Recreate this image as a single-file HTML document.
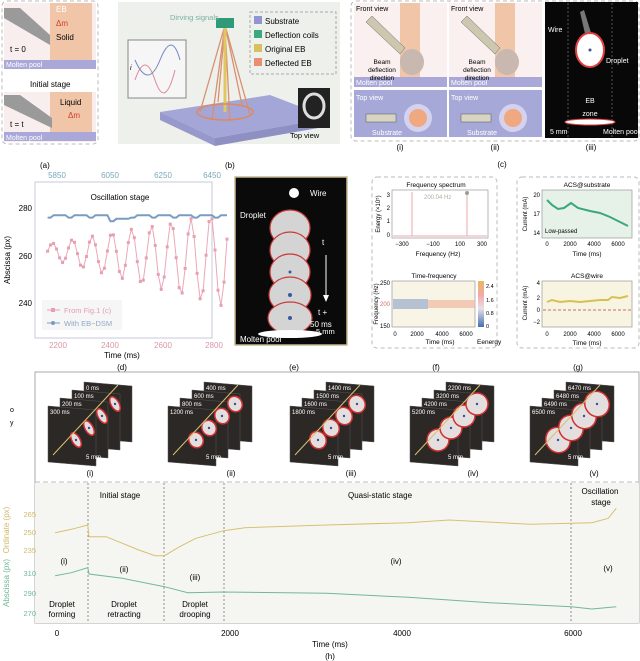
<!DOCTYPE html>
<html><head><meta charset="utf-8"><style>
html,body{margin:0;padding:0;background:#fff}
svg{display:block;font-family:"Liberation Sans",sans-serif}
</style></head><body>
<svg id="s" width="640" height="661" viewBox="0 0 640 661" xmlns="http://www.w3.org/2000/svg">
<defs><linearGradient id="cb" x1="0" y1="1" x2="0" y2="0"><stop offset="0" stop-color="#4070b0"/><stop offset=".4" stop-color="#e8e0e8"/><stop offset=".7" stop-color="#f0a8a8"/><stop offset="1" stop-color="#e8b860"/></linearGradient></defs>
<!-- (a) -->
<rect x="2" y="1" width="96" height="143" rx="5" fill="#fff" stroke="#bbb" stroke-dasharray="4,3"/>
<rect x="4" y="3" width="92" height="66" fill="#f8eeee"/>
<rect x="50" y="3" width="42" height="64" fill="#f1c6a8"/>
<rect x="4" y="60" width="92" height="9" fill="#a9a8d8"/>
<polygon points="4,8 20,8 50,35 50,45 4,18" fill="#9a9a9a"/>
<text x="56" y="12" font-size="8" fill="#fff">EB</text>
<text x="56" y="26" font-size="8" fill="#d04030">Δm</text>
<text x="56" y="40" font-size="8">Solid</text>
<text x="10" y="52" font-size="8">t = 0</text>
<text x="6" y="67" font-size="7" fill="#fff">Molten pool</text>
<text x="30" y="87" font-size="8">Initial stage</text>
<rect x="4" y="92" width="92" height="50" fill="#f8eeee"/>
<rect x="50" y="92" width="42" height="48" fill="#f1c6a8"/>
<rect x="4" y="132" width="92" height="9" fill="#a9a8d8"/>
<polygon points="4,95 20,95 52,118 52,128 4,105" fill="#9a9a9a"/>
<text x="60" y="105" font-size="8">Liquid</text>
<text x="68" y="118" font-size="8" fill="#d04030">Δm</text>
<text x="10" y="127" font-size="8">t = t</text>
<text x="6" y="140" font-size="7" fill="#fff">Molten pool</text>
<text x="40" y="168" font-size="8">(a)</text>
<!-- (b) -->
<rect x="118" y="2" width="222" height="142" fill="#eef0ec"/>
<polygon points="160,112 270,95 330,118 215,138" fill="#a4a6d8"/>
<polygon points="215,138 330,118 330,126 215,146" fill="#8e90c4"/>
<polygon points="160,112 215,138 215,146 160,120" fill="#9799cc"/>
<g stroke="#d89070" stroke-width="1.3">
<line x1="225" y1="25" x2="200" y2="112"/><line x1="225" y1="25" x2="212" y2="120"/><line x1="225" y1="25" x2="230" y2="122"/><line x1="225" y1="25" x2="250" y2="115"/><line x1="225" y1="25" x2="242" y2="105"/><line x1="225" y1="25" x2="218" y2="102"/></g>
<line x1="225" y1="25" x2="225" y2="112" stroke="#e0c860" stroke-width="3"/>
<ellipse cx="225" cy="112" rx="28" ry="8" fill="none" stroke="#e08860" stroke-width="1.5"/>
<rect x="216" y="18" width="18" height="10" fill="#2f9a78"/>
<text x="170" y="20" font-size="7.5" fill="#7ab0a0">Dirving signals</text>
<rect x="128" y="40" width="58" height="58" fill="#f6f6f6" stroke="#888"/>
<path d="M135,80 Q145,50 155,80 T175,70" fill="none" stroke="#e08898"/>
<path d="M135,60 Q148,90 160,60 T180,60" fill="none" stroke="#7088c0"/>
<text x="130" y="70" font-size="7" font-style="italic">i</text>
<rect x="250" y="12" width="86" height="62" fill="none" stroke="#aaa" stroke-dasharray="3,2"/>
<rect x="254" y="16" width="8" height="8" fill="#9294d4"/><text x="265" y="24" font-size="8">Substrate</text>
<rect x="254" y="30" width="8" height="8" fill="#3aa880"/><text x="265" y="38" font-size="8">Deflection coils</text>
<rect x="254" y="44" width="8" height="8" fill="#d8c060"/><text x="265" y="52" font-size="8">Original EB</text>
<rect x="254" y="58" width="8" height="8" fill="#e89070"/><text x="265" y="66" font-size="8">Deflected EB</text>
<rect x="298" y="88" width="32" height="40" fill="#222"/>
<ellipse cx="314" cy="106" rx="10" ry="12" fill="none" stroke="#ddd" stroke-width="3"/>
<text x="290" y="138" font-size="7.5">Top view</text>
<text x="225" y="168" font-size="8">(b)</text>
<!-- (c) -->
<rect x="351" y="1" width="288" height="140" rx="5" fill="#fff" stroke="#bbb" stroke-dasharray="4,3"/>
<g id="c1">
<rect x="354" y="3" width="93" height="84" fill="#fbf0f0"/>
<rect x="400" y="3" width="20" height="84" fill="#f1c6a8"/>
<rect x="354" y="77" width="93" height="10" fill="#a9a8d8"/>
<text x="356" y="85" font-size="7" fill="#fff">Molten pool</text>
<rect x="354" y="90" width="93" height="47" fill="#a6a8d8"/>
<circle cx="418" cy="118" r="14" fill="#d4d2ee"/><circle cx="418" cy="118" r="9" fill="#f0a880"/>
<rect x="366" y="114" width="30" height="8" fill="#d8d4c4" stroke="#555" stroke-width=".5"/>
<text x="356" y="100" font-size="7" fill="#fff">Top view</text>
<text x="372" y="135" font-size="7" fill="#fff">Substrate</text>
<text x="356" y="11" font-size="7">Front view</text>
<polygon points="366,22 372,16 405,48 400,54" fill="#ccc8b0" stroke="#666" stroke-width=".5"/>
<ellipse cx="412" cy="62" rx="12" ry="13" fill="#c8b8b0"/>
<text x="382" y="64" font-size="6.5" text-anchor="middle">Beam</text>
<text x="382" y="72" font-size="6.5" text-anchor="middle">deflection</text>
<text x="382" y="80" font-size="6.5" text-anchor="middle">direction</text>
</g>
<use href="#c1" x="95"/>
<rect x="545" y="2" width="93" height="136" fill="#080808"/>
<line x1="568" y1="3" x2="568" y2="137" stroke="#888" stroke-dasharray="2,2" stroke-width=".6"/>
<line x1="612" y1="3" x2="612" y2="137" stroke="#888" stroke-dasharray="2,2" stroke-width=".6"/>
<polygon points="580,12 584,10 592,36 586,38" fill="#777"/>
<ellipse cx="590" cy="50" rx="14" ry="17" fill="#fff" stroke="#e04040" stroke-width="2"/>
<circle cx="590" cy="50" r="1.5" fill="#4050a0"/>
<ellipse cx="590" cy="122" rx="25" ry="3" fill="#fff" stroke="#e04040"/>
<text x="548" y="32" font-size="7" fill="#fff">Wire</text>
<text x="606" y="63" font-size="7" fill="#fff">Droplet</text>
<text x="590" y="103" font-size="7" fill="#fff" text-anchor="middle">EB</text>
<text x="590" y="116" font-size="7" fill="#fff" text-anchor="middle">zone</text>
<text x="550" y="134" font-size="7" fill="#fff">5 mm</text>
<text x="603" y="134" font-size="7" fill="#fff">Molten pool</text>
<text x="400" y="150" font-size="8" text-anchor="middle">(i)</text>
<text x="495" y="150" font-size="8" text-anchor="middle">(ii)</text>
<text x="591" y="150" font-size="8" text-anchor="middle">(iii)</text>
<text x="502" y="167" font-size="8" text-anchor="middle">(c)</text>
<!-- (d) -->
<rect x="35" y="182" width="177" height="156" fill="#fff" stroke="#c8c8d8"/>
<g font-size="8" fill="#7aa8b8" text-anchor="middle"><text x="57" y="178">5850</text><text x="110" y="178">6050</text><text x="163" y="178">6250</text><text x="212" y="178">6450</text></g>
<g font-size="8" text-anchor="end"><text x="32" y="211">280</text><text x="32" y="259">260</text><text x="32" y="306">240</text></g>
<g font-size="8" fill="#d898a8" text-anchor="middle"><text x="58" y="348">2200</text><text x="110" y="348">2400</text><text x="163" y="348">2600</text><text x="214" y="348">2800</text></g>
<text x="120" y="200" font-size="8" text-anchor="middle">Oscillation stage</text>
<text x="10" y="260" font-size="8" transform="rotate(-90 10 260)" text-anchor="middle">Abscissa (px)</text>
<text x="122" y="358" font-size="8" text-anchor="middle">Time (ms)</text>
<text x="122" y="370" font-size="8" text-anchor="middle">(d)</text>
<polyline id="pk" fill="none" stroke="#eaa8b8" stroke-width="1"/>
<polyline id="bl" fill="none" stroke="#7a9cc0" stroke-width="2"/>
<g id="pkd" fill="#e8a0b0"></g>
<rect x="42" y="300" width="80" height="30" fill="#f4f4f4" opacity=".8"/>
<line x1="47" y1="310" x2="60" y2="310" stroke="#e8a0b0"/><rect x="51" y="308" width="4" height="4" fill="#e8a0b0"/>
<text x="64" y="313" font-size="7.5" fill="#e0a0b0">From Fig.1 (c)</text>
<line x1="47" y1="323" x2="60" y2="323" stroke="#7a9cc0"/><circle cx="53" cy="323" r="2" fill="#7a9cc0"/>
<text x="64" y="326" font-size="7.5" fill="#90a8c8">With EB−DSM</text>
<!-- (e) -->
<rect x="235" y="177" width="112" height="168" fill="#0a0a0a" stroke="#c8b890" stroke-width="1.5"/>
<g fill="#eaeaea" stroke="#e04040" stroke-width="1.2" opacity=".9">
<ellipse cx="290" cy="228" rx="20" ry="18"/><ellipse cx="290" cy="250" rx="20" ry="18"/><ellipse cx="290" cy="272" rx="20" ry="18"/><ellipse cx="290" cy="295" rx="21" ry="18"/><ellipse cx="290" cy="318" rx="22" ry="16"/></g>
<ellipse cx="290" cy="334" rx="32" ry="4" fill="#fff"/>
<ellipse cx="294" cy="193" rx="5" ry="5" fill="#fff"/>
<g fill="#3858a0"><circle cx="290" cy="295" r="2"/><circle cx="290" cy="318" r="2"/><circle cx="290" cy="272" r="1.5"/></g>
<text x="310" y="196" font-size="8" fill="#fff">Wire</text>
<text x="240" y="218" font-size="8" fill="#fff">Droplet</text>
<text x="322" y="245" font-size="8" fill="#fff">t</text>
<line x1="326" y1="255" x2="326" y2="295" stroke="#fff"/><polygon points="323,295 329,295 326,302" fill="#fff"/>
<text x="318" y="315" font-size="8" fill="#fff">t +</text>
<text x="310" y="327" font-size="8" fill="#fff">50 ms</text>
<text x="240" y="342" font-size="8" fill="#fff">Molten pool</text>
<text x="316" y="334" font-size="7.5" fill="#fff">5 mm</text>
<text x="294" y="370" font-size="8" text-anchor="middle">(e)</text>
<!-- (f) -->
<rect x="372" y="177" width="125" height="171" rx="5" fill="#fff" stroke="#bbb" stroke-dasharray="4,3"/>
<text x="436" y="187" font-size="6.5" text-anchor="middle">Frequency spectrum</text>
<rect x="392" y="190" width="96" height="48" fill="#fff" stroke="#999" stroke-width=".7"/>
<line x1="412" y1="192" x2="412" y2="236" stroke="#e8a8b0"/><line x1="467" y1="192" x2="467" y2="236" stroke="#e8a8b0"/>
<line x1="393" y1="236" x2="487" y2="236" stroke="#e8a8b0"/>
<circle cx="467" cy="193" r="2" fill="#9aa090"/>
<text x="424" y="199" font-size="6" fill="#aab0a0">200.04 Hz</text>
<g font-size="6" text-anchor="end"><text x="390" y="197">3</text><text x="390" y="210">2</text><text x="390" y="223">1</text><text x="390" y="237">0</text></g>
<g font-size="6" text-anchor="middle"><text x="402" y="246">−300</text><text x="433" y="246">−100</text><text x="460" y="246">100</text><text x="482" y="246">300</text></g>
<text x="438" y="256" font-size="6.5" text-anchor="middle">Frequency (Hz)</text>
<text x="380" y="214" font-size="6" transform="rotate(-90 380 214)" text-anchor="middle">Energy (×10⁵)</text>
<text x="434" y="278" font-size="6.5" text-anchor="middle">Time-frequency</text>
<rect x="392" y="281" width="83" height="46" fill="#f8f4e6" stroke="#999" stroke-width=".7"/>
<rect x="393" y="299" width="35" height="10" fill="#8aa0c8" opacity=".6"/>
<rect x="428" y="300" width="47" height="8" fill="#f0b8a0" opacity=".7"/>
<rect x="478" y="281" width="6" height="46" fill="url(#cb)"/>
<g font-size="5.5"><text x="486" y="288">2.4</text><text x="486" y="302">1.6</text><text x="486" y="315">0.8</text><text x="486" y="328">0</text></g>
<g font-size="6" text-anchor="end"><text x="390" y="285">250</text><text x="390" y="306" fill="#d07060">200</text><text x="390" y="328">150</text></g>
<g font-size="6" text-anchor="middle"><text x="395" y="336">0</text><text x="417" y="336">2000</text><text x="442" y="336">4000</text><text x="466" y="336">6000</text></g>
<text x="440" y="344" font-size="6.5" text-anchor="middle">Time (ms)</text>
<text x="477" y="344" font-size="6.5">Eenergy</text>
<text x="378" y="304" font-size="6" transform="rotate(-90 378 304)" text-anchor="middle">Frequency (Hz)</text>
<text x="436" y="370" font-size="8" text-anchor="middle">(f)</text>
<!-- (g) -->
<rect x="517" y="177" width="122" height="171" rx="5" fill="#fff" stroke="#bbb" stroke-dasharray="4,3"/>
<text x="587" y="187" font-size="6.5" text-anchor="middle">ACS@substrate</text>
<rect x="542" y="190" width="90" height="48" fill="#e6f2e8" stroke="#999" stroke-width=".7"/>
<polyline points="547,200 552,205 558,209 564,208 571,203 578,208 590,211 600,213 610,217 620,222 628,226" fill="none" stroke="#3aa878" stroke-width="2"/>
<text x="545" y="233" font-size="6">Low-passed</text>
<g font-size="6" text-anchor="end"><text x="540" y="197">20</text><text x="540" y="216">17</text><text x="540" y="235">14</text></g>
<g font-size="6" text-anchor="middle"><text x="547" y="246">0</text><text x="570" y="246">2000</text><text x="594" y="246">4000</text><text x="618" y="246">6000</text></g>
<text x="587" y="256" font-size="6.5" text-anchor="middle">Time (ms)</text>
<text x="527" y="214" font-size="6" transform="rotate(-90 527 214)" text-anchor="middle">Current (mA)</text>
<text x="587" y="278" font-size="6.5" text-anchor="middle">ACS@wire</text>
<rect x="542" y="281" width="90" height="46" fill="#f8f4e2" stroke="#999" stroke-width=".7"/>
<line x1="543" y1="310" x2="631" y2="310" stroke="#c04040" stroke-dasharray="3,2" stroke-width=".7"/>
<polyline points="547,302 552,300 560,302 570,301 580,302 590,301 600,300 608,300 612,297 620,298 628,296" fill="none" stroke="#d8c050" stroke-width="2"/>
<g font-size="6" text-anchor="end"><text x="540" y="285">4</text><text x="540" y="300">2</text><text x="540" y="312">0</text><text x="540" y="324">−2</text></g>
<g font-size="6" text-anchor="middle"><text x="547" y="336">0</text><text x="570" y="336">2000</text><text x="594" y="336">4000</text><text x="618" y="336">6000</text></g>
<text x="587" y="345" font-size="6.5" text-anchor="middle">Time (ms)</text>
<text x="527" y="303" font-size="6" transform="rotate(-90 527 303)" text-anchor="middle">Current (mA)</text>
<text x="578" y="370" font-size="8" text-anchor="middle">(g)</text>
<!-- (h) -->
<rect x="35" y="372" width="604" height="251" fill="#fff" stroke="#aaa"/>
<rect x="35" y="483" width="604" height="140" fill="#f5f6f1"/>
<line x1="35" y1="482" x2="639" y2="482" stroke="#bbb" stroke-dasharray="5,3"/>
<g id="ph"></g>
<g font-size="8" text-anchor="middle"><text x="90" y="476">(i)</text><text x="231" y="476">(ii)</text><text x="351" y="476">(iii)</text><text x="473" y="476">(iv)</text><text x="594" y="476">(v)</text></g>
<text x="10" y="412" font-size="7">o</text><text x="10" y="425" font-size="7">y</text>
<g stroke="#777" stroke-dasharray="2,2" stroke-width=".8"><line x1="88" y1="483" x2="88" y2="623"/><line x1="164" y1="483" x2="164" y2="623"/><line x1="224" y1="483" x2="224" y2="623"/><line x1="571" y1="483" x2="571" y2="623"/></g>
<g font-size="8" text-anchor="middle">
<text x="120" y="498">Initial stage</text><text x="380" y="498">Quasi-static stage</text><text x="600" y="494">Oscillation</text><text x="601" y="505">stage</text>
<text x="64" y="564">(i)</text><text x="124" y="572">(ii)</text><text x="195" y="580">(iii)</text><text x="396" y="564">(iv)</text><text x="608" y="571">(v)</text>
<text x="62" y="607">Droplet</text><text x="62" y="617">forming</text>
<text x="124" y="607">Droplet</text><text x="124" y="617">retracting</text>
<text x="195" y="607">Droplet</text><text x="195" y="617">drooping</text></g>
<g font-size="7.5" text-anchor="end" fill="#d0b868"><text x="36" y="517">265</text><text x="36" y="535">250</text><text x="36" y="553">235</text></g>
<g font-size="7.5" text-anchor="end" fill="#70b898"><text x="36" y="576">310</text><text x="36" y="596">290</text><text x="36" y="616">270</text></g>
<text x="9" y="530" font-size="8" fill="#d0b868" transform="rotate(-90 9 530)" text-anchor="middle">Ordinate (px)</text>
<text x="9" y="583" font-size="8" fill="#70b898" transform="rotate(-90 9 583)" text-anchor="middle">Abscissa (px)</text>
<polyline id="yl" fill="none" stroke="#d8c070" stroke-width="1"/>
<polyline id="gl" fill="none" stroke="#70b898" stroke-width="1"/>
<g font-size="8" text-anchor="middle"><text x="57" y="636">0</text><text x="230" y="636">2000</text><text x="402" y="636">4000</text><text x="573" y="636">6000</text></g>
<text x="330" y="647" font-size="8" text-anchor="middle">Time (ms)</text>
<text x="330" y="659" font-size="8" text-anchor="middle">(h)</text>
</svg>
<script>
function pl(id,pts){document.getElementById(id).setAttribute('points',pts.map(p=>(p[0]/2.45).toFixed(1)+','+(410+p[1]/3).toFixed(1)).join(' '));}
pl('yl',[[135,368],[175,358],[215,345],[218,380],[260,380],[300,400],[340,420],[380,437],[403,437],[440,410],[480,385],[548,362],[600,353],[800,345],[1000,338],[1100,330],[1300,343],[1400,340],[1450,338],[1490,325],[1510,295]]);
pl('gl',[[135,497],[175,488],[215,473],[218,492],[300,505],[403,530],[460,548],[548,546],[800,550],[1000,562],[1200,578],[1400,590],[1450,597],[1510,590]]);
var pk=[],bl=[],d=document.getElementById('pkd'),ns='http://www.w3.org/2000/svg';
for(var i=0;i<=60;i++){var t=2160+i*11.5,x=58+(t-2200)*0.26;var a=3+i*0.28;var v=262-i*0.06+a*Math.sin(i*0.95);var y=208+(280-v)*2.4;pk.push(x.toFixed(1)+','+y.toFixed(1));
var c=document.createElementNS(ns,'rect');c.setAttribute('x',x-1.5);c.setAttribute('y',y-1.5);c.setAttribute('width',3);c.setAttribute('height',3);d.appendChild(c);
var bv=277-((i%7<2)?1:0)-((i>20&&i<28)?1.5:0);bl.push(x.toFixed(1)+','+(208+(280-bv)*2.4).toFixed(1));}
document.getElementById('pk').setAttribute('points',pk.join(' '));
document.getElementById('bl').setAttribute('points',bl.join(' '));
var ph=document.getElementById('ph'),cx=[48,168,290,410,530],labs=[['0','100','200','300'],['400','600','800','1200'],['1400','1500','1600','1800'],['2200','3200','4200','5200'],['6470','6480','6490','6500']],h='';
for(var k=0;k<5;k++){var x0=cx[k];var sz=[[4,8],[7,8],[8,9],[11,11],[12,13]][k];
for(var j=0;j<4;j++){var ox=x0+(3-j)*12,oy=406-(3-j)*8;
h+='<polygon points="'+ox+','+oy+' '+(ox+48)+','+(oy+4)+' '+(ox+48)+','+(oy+60)+' '+ox+','+(oy+56)+'" fill="#2c2826" stroke="#555" stroke-width=".5"/>';
h+='<text x="'+(ox+2)+'" y="'+(oy+8)+'" font-size="6" fill="#fff">'+labs[k][j]+' ms</text>';}
for(var j=0;j<4;j++){var px=x0+28+j*13,py=440-j*12;
h+='<ellipse cx="'+px+'" cy="'+py+'" rx="'+sz[0]+'" ry="'+sz[1]+'" fill="#e4dede" stroke="#d03030" stroke-width="1.5" transform="rotate(-30 '+px+' '+py+')"/><circle cx="'+px+'" cy="'+py+'" r="1.2" fill="#3050a0"/>';}
h+='<line x1="'+(x0+5)+'" y1="455" x2="'+(x0+70)+'" y2="385" stroke="#d8c070" stroke-width="1"/>';
h+='<text x="'+(x0+38)+'" y="459" font-size="6" fill="#fff">5 mm</text>';}
ph.innerHTML=h;
</script>
</body></html>
